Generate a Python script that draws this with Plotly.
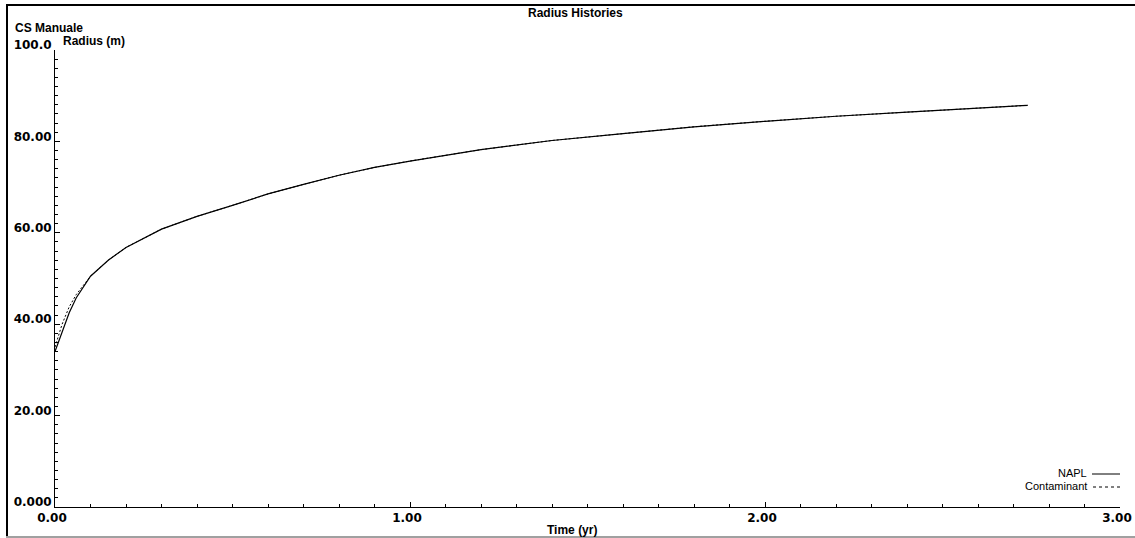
import plotly.graph_objects as go

# Time (yr) and radius (m) histories
time_napl = [0.0, 0.02, 0.04, 0.06, 0.08, 0.10, 0.15, 0.20, 0.30, 0.40, 0.50, 0.60,
             0.70, 0.80, 0.90, 1.00, 1.20, 1.40, 1.60, 1.80, 2.00, 2.20, 2.40, 2.60, 2.74]
radius_napl = [34.0, 38.5, 42.5, 45.8, 48.3, 50.5, 54.0, 56.8, 60.8, 63.6, 66.0, 68.5,
               70.6, 72.6, 74.3, 75.7, 78.2, 80.2, 81.7, 83.2, 84.4, 85.5, 86.4, 87.2, 87.9]

time_cont = [0.0, 0.02, 0.04, 0.06, 0.08, 0.10, 0.15, 0.20, 0.30, 0.40, 0.50, 0.60,
             0.70, 0.80, 0.90, 1.00, 1.20, 1.40, 1.60, 1.80, 2.00, 2.20, 2.40, 2.60, 2.74]
radius_cont = [35.0, 40.0, 43.8, 46.5, 48.5, 50.5, 54.0, 56.8, 60.8, 63.6, 66.0, 68.5,
               70.6, 72.6, 74.3, 75.7, 78.2, 80.2, 81.7, 83.2, 84.4, 85.5, 86.4, 87.2, 87.9]

x_ticks = [0, 1, 2, 3]
x_tick_text = ["0.00", "1.00", "2.00", "3.00"]
y_ticks = [0, 20, 40, 60, 80, 100]
y_tick_text = ["0.000", "20.00", "40.00", "60.00", "80.00", "100.0"]

TEXT_FONT = "Liberation Sans"
TICK_FONT = "DejaVu Sans"

fig = go.Figure()
fig.add_trace(go.Scatter(x=time_cont, y=radius_cont, mode="lines",
                         line=dict(color="black", width=1, dash="2px,2px"),
                         name="Contaminant", showlegend=False))
fig.add_trace(go.Scatter(x=time_napl, y=radius_napl, mode="lines",
                         line=dict(color="black", width=1.2),
                         name="NAPL", showlegend=False))

W, H = 1135, 538
L, R, T, B = 55, 15, 50, 31
pw, ph = W - L - R, H - T - B


def px(x):
    return (x - L) / pw


def py(y):
    return (H - B - y) / ph


axis_common = dict(showgrid=False, zeroline=False, showline=True, linecolor="black",
                   linewidth=1, ticks="inside", ticklen=5, tickcolor="black",
                   automargin=False,
                   tickfont=dict(family=TICK_FONT, size=12, color="black", weight="bold"))

fig.update_xaxes(range=[0, 3], tickvals=x_ticks, ticktext=x_tick_text,
                 minor=dict(dtick=0.1, ticks="inside", ticklen=3, tickcolor="black"),
                 ticklabelshift=-3, **axis_common)
fig.update_yaxes(range=[0, 100], tickvals=y_ticks, ticktext=y_tick_text,
                 minor=dict(dtick=2, ticks="inside", ticklen=3, tickcolor="black"),
                 ticklabelstandoff=0, ticklabelshift=-5, **axis_common)

bold = dict(family=TEXT_FONT, size=12, color="black", weight="bold")
reg = dict(family=TEXT_FONT, size=11, color="black")

annotations = [
    dict(text="Radius Histories", x=px(575), y=py(13), xanchor="center", yanchor="middle", font=bold),
    dict(text="CS Manuale", x=px(13), y=py(28), xanchor="left", yanchor="middle", font=bold),
    dict(text="Radius (m)", x=px(61), y=py(41), xanchor="left", yanchor="middle", font=bold),
    dict(text="Time (yr)", x=px(572), y=py(530), xanchor="center", yanchor="middle", font=bold),
    dict(text="NAPL", x=px(1089), y=py(473), xanchor="right", yanchor="middle", font=reg),
    dict(text="Contaminant", x=px(1089), y=py(486), xanchor="right", yanchor="middle", font=reg),
]
for a in annotations:
    a.update(xref="paper", yref="paper", showarrow=False)

shapes = [
    # legend samples
    dict(type="line", x0=px(1092), x1=px(1120), y0=py(474), y1=py(474),
         line=dict(color="black", width=1)),
    dict(type="line", x0=px(1093), x1=px(1122), y0=py(487), y1=py(487),
         line=dict(color="black", width=1, dash="3px,3px")),
    # window frame
    dict(type="line", x0=px(6), x1=px(1135), y0=py(5), y1=py(5),
         line=dict(color="black", width=2)),
    dict(type="line", x0=px(7), x1=px(7), y0=py(4), y1=py(537),
         line=dict(color="black", width=2)),
    dict(type="line", x0=px(6), x1=px(1135), y0=py(537), y1=py(537),
         line=dict(color="#a0a0a0", width=2)),
]
for s in shapes:
    s.update(xref="paper", yref="paper")

fig.update_layout(width=W, height=H, margin=dict(l=L, r=R, t=T, b=B),
                  paper_bgcolor="white", plot_bgcolor="white",
                  annotations=annotations, shapes=shapes, showlegend=False)

fig.write_html("out.html")
